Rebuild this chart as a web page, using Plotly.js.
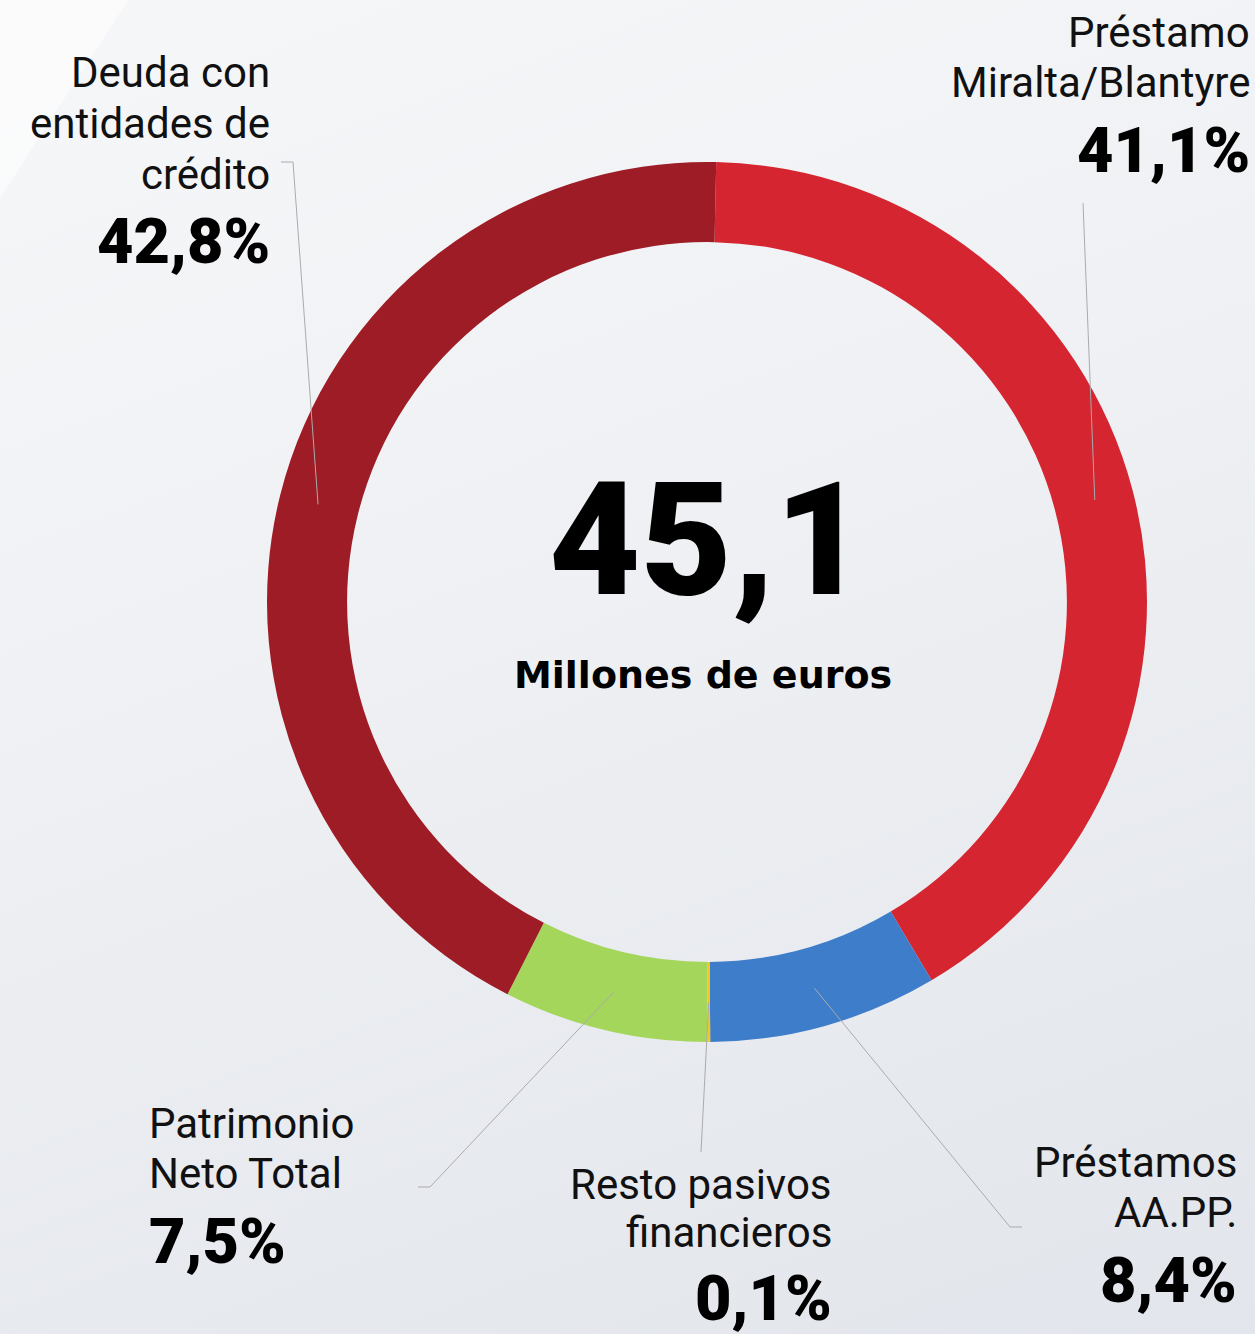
<!DOCTYPE html>
<html>
<head>
<meta charset="utf-8">
<script src="https://cdn.plot.ly/plotly-3.0.1.min.js"></script>
<style>
  html, body { margin: 0; padding: 0; }
  body { width: 1255px; height: 1334px; background: linear-gradient(160deg, #f6f7f9 0%, #eef0f3 45%, #e2e5eb 100%); overflow: hidden; }
  #chart { width: 1255px; height: 1334px; }
</style>
</head>
<body>
<div id="chart"></div>
<script>
// ---- data ----
const categories = ["Préstamo Miralta/Blantyre", "Préstamos AA.PP.", "Resto pasivos financieros", "Patrimonio Neto Total", "Deuda con entidades de crédito"];
const shares = [41.1, 8.4, 0.1, 7.5, 42.8];
const shareLabels = ["41,1%", "8,4%", "0,1%", "7,5%", "42,8%"];
const labelLines = [
  ["Préstamo", "Miralta/Blantyre"],
  ["Préstamos", "AA.PP."],
  ["Resto pasivos", "financieros"],
  ["Patrimonio", "Neto Total"],
  ["Deuda con", "entidades de", "crédito"]
];
const colors = ["#d42530", "#3e7dc9", "#f3c623", "#a5d65c", "#9d1c25"];
const totalValue = "45,1";
const totalUnit = "Millones de euros";

// ---- layout helpers (pixel -> paper) ----
const W = 1255, H = 1334;
const px = x => x / W;
const py = y => 1 - y / H;
const cx = 707, cy = 602, R = 440;
const rotation = 1.2;

// label block placement: anchor x, alignment, cap-middle y of each line, then of percentage
const blocks = [
  {x: 1250, anchor: "right", lines: [33, 82.5], pct: 150, elbow: [[1083, 203]]},
  {x: 1237, anchor: "right", lines: [1162, 1212.5], pct: 1280, elbow: [[1010, 1227], [1022, 1227]]},
  {x: 832, anchor: "right", lines: [1184, 1232], pct: 1298, elbow: [[701, 1152]]},
  {x: 149, anchor: "left", lines: [1123, 1173], pct: 1241, elbow: [[430, 1187], [418, 1187]]},
  {x: 270, anchor: "right", lines: [72.5, 123.5, 174.5], pct: 241, elbow: [[293, 162], [281, 162]]}
];

const annotations = [];
const shapes = [];

// decorative light stripe at top-left
shapes.push({type: "path", xref: "paper", yref: "paper", layer: "below",
  path: `M ${px(0)},${py(0)} L ${px(128)},${py(0)} L ${px(0)},${py(198)} Z`,
  fillcolor: "rgba(255,255,255,0.55)", line: {width: 0}});

const total = shares.reduce((a, b) => a + b, 0);
let acc = 0;
shares.forEach((v, i) => {
  const mid = rotation + (acc + v / 2) / total * 360;
  acc += v;
  const a = mid * Math.PI / 180;
  const r0 = 401;
  const pts = [[cx + r0 * Math.sin(a), cy - r0 * Math.cos(a)]].concat(blocks[i].elbow);
  for (let k = 0; k < pts.length - 1; k++) {
    shapes.push({type: "line", xref: "paper", yref: "paper",
      x0: px(pts[k][0]), y0: py(pts[k][1]), x1: px(pts[k + 1][0]), y1: py(pts[k + 1][1]),
      line: {color: "#a9abae", width: 1}});
  }
  const b = blocks[i];
  labelLines[i].forEach((t, j) => {
    annotations.push({text: t, x: px(b.x), y: py(b.lines[j]), xref: "paper", yref: "paper",
      xanchor: b.anchor, yanchor: "middle", showarrow: false, borderpad: 0, borderwidth: 0,
      font: {family: "Roboto", size: 42, color: "#111"}});
  });
  annotations.push({text: shareLabels[i], x: px(b.x), y: py(b.pct), xref: "paper", yref: "paper",
    xanchor: b.anchor, yanchor: "middle", showarrow: false, borderpad: 0, borderwidth: 0,
    font: {family: "Roboto", size: 63, color: "#000", weight: 900}});
});

annotations.push({text: totalValue, x: px(707), y: py(540), xref: "paper", yref: "paper",
  xanchor: "center", yanchor: "middle", showarrow: false, borderpad: 0,
  font: {family: "Roboto", size: 158, color: "#000", weight: 900}});
annotations.push({text: totalUnit, x: px(703), y: py(675), xref: "paper", yref: "paper",
  xanchor: "center", yanchor: "middle", showarrow: false, borderpad: 0,
  font: {family: "DejaVu Sans", size: 38, color: "#000", weight: 700}});

const trace = {
  type: "pie",
  labels: categories,
  values: shares,
  sort: false,
  direction: "clockwise",
  rotation: rotation,
  hole: 0.818,
  marker: {colors: colors, line: {width: 0}},
  textinfo: "none",
  hoverinfo: "label+percent",
  showlegend: false,
  domain: {x: [px(cx - R), px(cx + R)], y: [py(cy + R), py(cy - R)]}
};

const layout = {
  width: W, height: H,
  margin: {l: 0, r: 0, t: 0, b: 0},
  paper_bgcolor: "rgba(0,0,0,0)",
  plot_bgcolor: "rgba(0,0,0,0)",
  showlegend: false,
  annotations: annotations,
  shapes: shapes
};

Plotly.newPlot("chart", [trace], layout, {displayModeBar: false, staticPlot: true});
</script>
</body>
</html>
